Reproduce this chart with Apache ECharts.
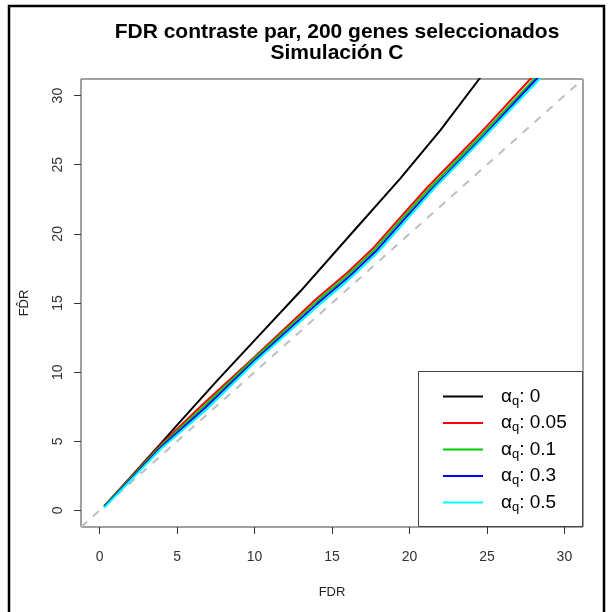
<!DOCTYPE html>
<html lang="es">
<head>
    <meta charset="UTF-8" />
    <title>FDR contraste par, 200 genes seleccionados</title>
    <script src="https://cdn.jsdelivr.net/npm/echarts@6.0.0/dist/echarts.min.js"></script>
    <style>
        html, body { margin: 0; padding: 0; background: #fff; }
        #chart { width: 611px; height: 612px; }
    </style>
</head>
<body>
    <div id="chart"></div>
    <script>
        const alphaNames = ['0', '0.05', '0.1', '0.3', '0.5'];
        const lineColors = ['#000000', '#ff0000', '#00cd00', '#0000ff', '#00ffff'];

        const alpha0 = [[0.3, 0.3], [2, 2.4], [4, 4.9], [5.1, 6.3], [7.6, 9.4], [10, 12.3], [13, 15.9],
            [16, 19.7], [19.4, 24], [22, 27.5], [24.5, 31.2], [26, 33.4]];
        const alpha005 = [[0.3, 0.3], [4, 4.8], [6.6, 7.6], [10, 11.1], [14, 15.3], [16, 17.2], [17.6, 18.9],
            [19.5, 21.3], [21.1, 23.3], [24.5, 27.2], [27.8, 31.2], [29, 32.6]];
        const alpha01 = [[0.3, 0.3], [4, 4.7], [6.7, 7.5], [10, 11.0], [14, 15.1], [16, 17.0], [17.7, 18.8],
            [19.6, 21.2], [21.3, 23.3], [24.7, 27.2], [28.05, 31.2], [29.2, 32.6]];
        const alpha03 = [[0.3, 0.25], [4, 4.6], [6.8, 7.4], [10, 10.85], [14, 14.9], [16, 16.8], [17.8, 18.7],
            [19.7, 21.1], [21.4, 23.2], [24.8, 27.1], [28.2, 31.2], [29.3, 32.5]];
        const alpha05 = [[0.3, 0.2], [4, 4.5], [6.9, 7.3], [10, 10.7], [14.2, 14.9], [16, 16.6], [17.9, 18.6],
            [19.8, 21], [21.6, 23.3], [25, 27.2], [28.4, 31.2], [29.5, 32.5]];

        const diagonal = [[-1.2, -1.2], [31.2, 31.2]];
        const tickValues = [0, 5, 10, 15, 20, 25, 30];
        const axisMin = -1.2;
        const axisMax = 31.2;

        const seriesData = [alpha0, alpha005, alpha01, alpha03, alpha05];
        const font = "'Liberation Sans', Arial, sans-serif";

        const chart = echarts.init(document.getElementById('chart'));

        function axisCfg(isY) {
            return {
                type: 'value',
                min: axisMin,
                max: axisMax,
                name: isY ? 'FD\u0302R' : 'FDR',
                nameLocation: 'middle',
                nameGap: isY ? 50 : 59,
                nameRotate: isY ? 90 : 0,
                nameTextStyle: { color: '#222', fontSize: 13, fontFamily: font },
                splitLine: { show: false },
                axisLine: { show: false, onZero: false },
                axisTick: {
                    show: true, inside: false, length: 7,
                    customValues: tickValues,
                    lineStyle: { color: '#333', width: 1 }
                },
                axisLabel: {
                    customValues: tickValues,
                    rotate: isY ? 90 : 0,
                    margin: isY ? 16 : 23,
                    color: '#333',
                    fontSize: 14,
                    fontFamily: font
                }
            };
        }

        const series = seriesData.map((d, i) => ({
            name: alphaNames[i],
            type: 'line',
            data: d,
            showSymbol: false,
            clip: true,
            z: 3,
            color: lineColors[i],
            lineStyle: { color: lineColors[i], width: 2 }
        }));

        series.push({
            name: 'diagonal',
            type: 'line',
            data: diagonal,
            showSymbol: false,
            z: 2,
            lineStyle: { color: '#bebebe', width: 2, type: [8, 8] }
        });

        chart.setOption({
            animation: false,
            title: {
                text: 'FDR contraste par, 200 genes seleccionados\nSimulación C',
                left: 332,
                top: 17,
                textAlign: 'center',
                textStyle: { fontSize: 21, fontWeight: 'bold', color: '#000', fontFamily: font, lineHeight: 21 }
            },
            grid: {
                left: 81, top: 79, right: 28, bottom: 85,
                show: true, borderColor: '#444', borderWidth: 1, backgroundColor: 'transparent'
            },
            xAxis: axisCfg(false),
            yAxis: axisCfg(true),
            legend: {
                data: alphaNames,
                orient: 'vertical',
                left: 438,
                top: 382,
                icon: 'rect',
                itemWidth: 40,
                itemHeight: 2,
                itemGap: 6,
                selectedMode: false,
                formatter: name => `{a|α}{q|q}{b|: ${name}}`,
                textStyle: {
                    fontFamily: font,
                    color: '#000',
                    rich: {
                        a: { fontSize: 19, fontFamily: font, padding: [0, 0, 0, 13], height: 20 },
                        q: { fontSize: 13, fontFamily: font, padding: [9, 0, 0, 0] },
                        b: { fontSize: 19, fontFamily: font }
                    }
                }
            },
            graphic: [
                {
                    type: 'rect',
                    shape: { x: 418.5, y: 371.5, width: 164, height: 155 },
                    style: { fill: '#fff', stroke: '#444', lineWidth: 1 },
                    z: 4
                },
                {
                    type: 'rect',
                    shape: { x: 9, y: 6, width: 595, height: 620 },
                    style: { fill: 'none', stroke: '#000', lineWidth: 2.5 },
                    z: 10
                }
            ],
            series: series
        });
    </script>
</body>
</html>
